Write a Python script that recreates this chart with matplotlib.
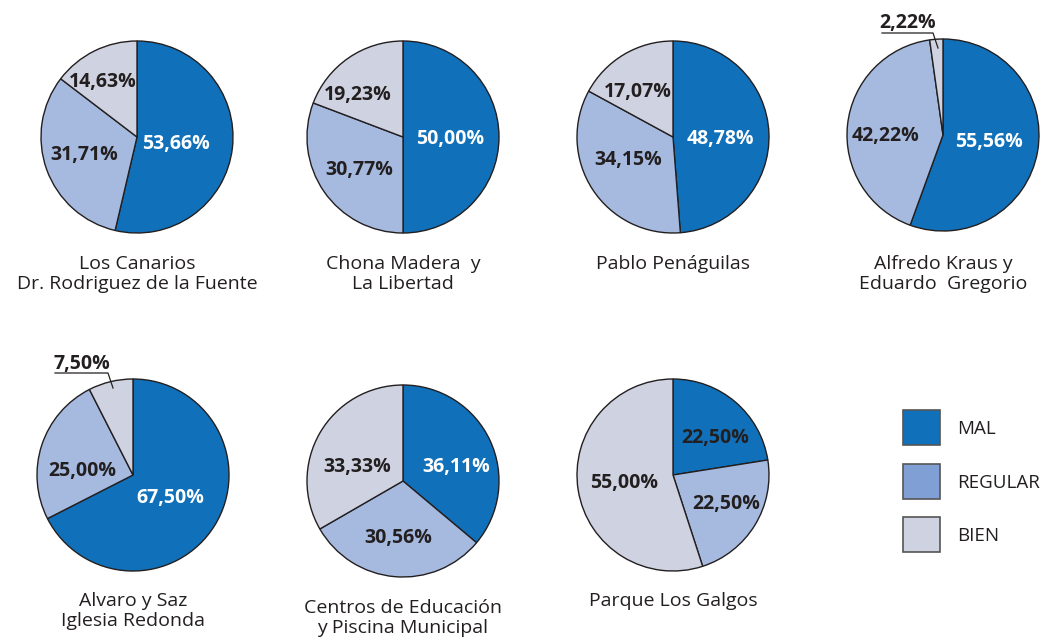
import matplotlib.pyplot as plt
from matplotlib.patches import Rectangle

plt.rcParams['font.family'] = ['Open Sans', 'DejaVu Sans']

# survey results per zone: MAL, REGULAR, BIEN (%)
zonas = ['Los Canarios\nDr. Rodriguez de la Fuente',
         'Chona Madera  y\nLa Libertad',
         'Pablo Penáguilas',
         'Alfredo Kraus y\nEduardo  Gregorio',
         'Alvaro y Saz\nIglesia Redonda',
         'Centros de Educación\ny Piscina Municipal',
         'Parque Los Galgos']
mal = [53.66, 50.00, 48.78, 55.56, 67.50, 36.11, 22.50]
regular = [31.71, 30.77, 34.15, 42.22, 25.00, 30.56, 22.50]
bien = [14.63, 19.23, 17.07, 2.22, 7.50, 33.33, 55.00]
categorias = ['MAL', 'REGULAR', 'BIEN']

colores = ['#1071BA', '#A6BAE0', '#CFD2E0']
colores_leyenda = ['#1071BA', '#7F9FD5', '#CFD2E0']
oscuro = '#231F20'

# layout in pixels
centros = [(137, 137), (403, 137), (673, 137), (943, 135),
           (133, 475), (403, 481), (673, 475)]
radio = 96
titulo_y = [255, 255, 255, 255, 592, 599, 592]
# where each percentage label sits (MAL, REGULAR, BIEN)
pos_etq = [[(176, 142), (84, 153), (103, 80)],
           [(450, 137), (359, 168), (358, 93)],
           [(720, 137), (628, 158), (638, 90)],
           [(989, 140), (885, 134), (908, 21)],
           [(170, 496), (82, 469), (82, 362)],
           [(456, 465), (398, 536), (357, 465)],
           [(715, 436), (726, 502), (624, 481)]]
# leader lines for the thin slices
guias = {3: [(882, 33), (933, 33), (938, 48)],
         4: [(55, 373), (108, 373), (113, 388)]}

fig = plt.figure(figsize=(10.51, 6.39), dpi=100)
ax = fig.add_axes([0, 0, 1, 1])

for i, nombre in enumerate(zonas):
    vals = [mal[i], regular[i], bien[i]]
    cx, cy = centros[i]
    # y axis is inverted, so counterclock=True draws clockwise on screen
    ax.pie(vals, colors=colores, startangle=-90, counterclock=True,
           center=(cx, cy), radius=radio, normalize=True,
           wedgeprops=dict(edgecolor=oscuro, linewidth=1.0))
    for j, v in enumerate(vals):
        texto = f'{v:.2f}%'.replace('.', ',')
        color_txt = 'white' if (j == 0 and v > 30) else oscuro
        tx, ty = pos_etq[i][j]
        # +2 px so the digits, not the text box, sit on the point
        ax.text(tx, ty + 2, texto, ha='center', va='center', fontsize=14,
                fontweight='bold', color=color_txt)
    if i in guias:
        xs, ys = zip(*guias[i])
        ax.plot(xs, ys, color=oscuro, lw=0.9)
    ax.text(cx, titulo_y[i], nombre, ha='center', va='top', fontsize=14,
            color=oscuro, linespacing=1.12)

# legend
for k, cat in enumerate(categorias):
    y0 = 410 + k * 53.5
    ax.add_patch(Rectangle((903, y0), 37, 35, facecolor=colores_leyenda[k],
                           edgecolor='#555555', lw=1.2))
    ax.text(957, y0 + 19, cat, ha='left', va='center', fontsize=13.5,
            color=oscuro)

# pie() resets the limits, so set the pixel frame last
ax.set_xlim(0, 1051)
ax.set_ylim(639, 0)
ax.set_aspect('equal')
ax.axis('off')

fig.savefig('out.png', dpi=100)
